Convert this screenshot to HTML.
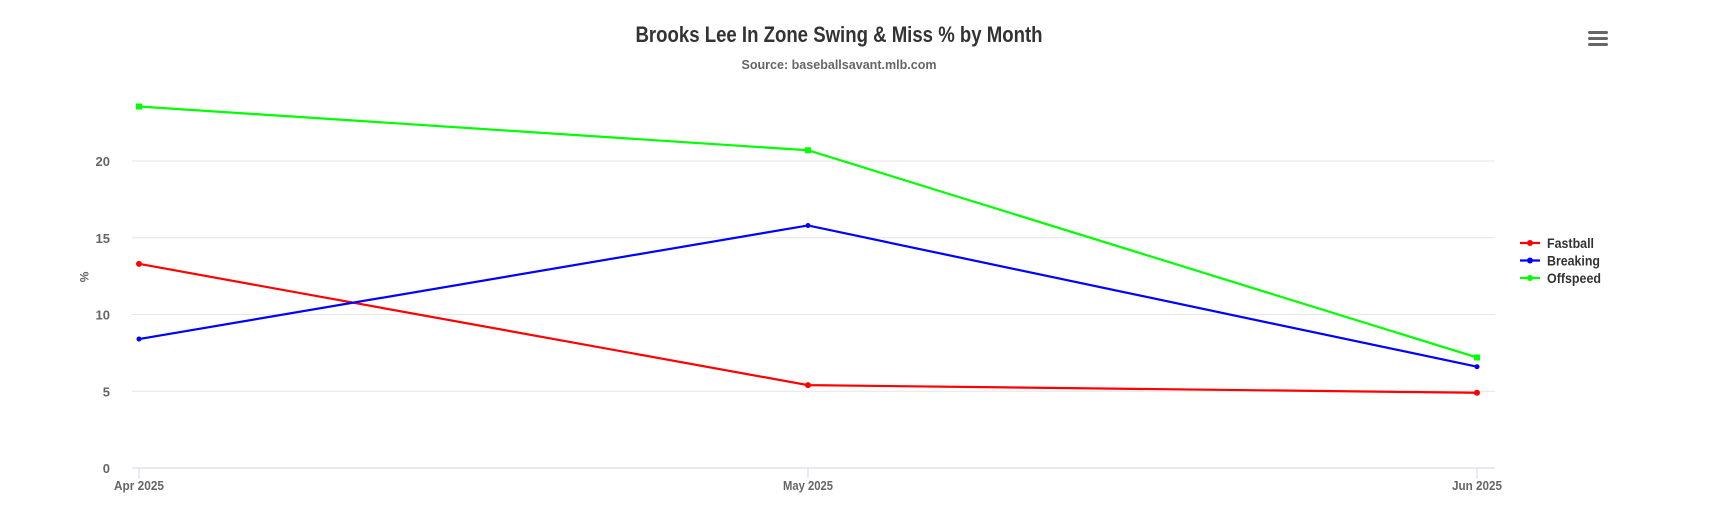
<!DOCTYPE html>
<html><head><meta charset="utf-8"><style>
body{margin:0;background:#fff;width:1721px;height:518px;overflow:hidden;font-family:"Liberation Sans Narrow","Liberation Sans",sans-serif}
svg text{font-family:"Liberation Sans Narrow","Liberation Sans",sans-serif;font-weight:bold}
</style></head><body>
<svg id="c" width="1721" height="518">
<text x="839" y="42" text-anchor="middle" font-size="22" fill="#333" textLength="407" lengthAdjust="spacingAndGlyphs">Brooks Lee In Zone Swing &amp; Miss % by Month</text>
<text x="839" y="69" text-anchor="middle" font-size="13" fill="#666" textLength="195" lengthAdjust="spacingAndGlyphs">Source: baseballsavant.mlb.com</text>
<g>
<rect x="1588" y="31" width="20" height="3" rx="1.5" fill="#666"/><rect x="1588" y="37" width="20" height="3" rx="1.5" fill="#666"/><rect x="1588" y="43" width="20" height="3" rx="1.5" fill="#666"/></g>
<text x="80" y="277" font-size="12" fill="#666" text-anchor="middle" transform="rotate(90 80 277)">%</text>
<g id="grid"></g><g id="series"></g>
<g id="legend"></g>
</svg>
<script>
const categories=["Apr 2025","May 2025","Jun 2025"];
const yTicks=[0,5,10,15,20];
const fastball=[13.3,5.4,4.9];
const breaking=[8.4,15.8,6.6];
const offspeed=[23.55,20.7,7.2];
const seriesNames=["Fastball","Breaking","Offspeed"];
const colors=["#ff0000","#0000ff","#00ff00"];
const NS="http://www.w3.org/2000/svg";
const L=132,R=1495,Y0=468,PY=15.35,X0=139,X1=1477;
const legendW=[47,53,54];
const x=i=>X0+i*(X1-X0)/(categories.length-1);
const y=v=>Y0-v*PY;
function mk(t,a,p){const e=document.createElementNS(NS,t);for(const k in a)e.setAttribute(k,a[k]);p.appendChild(e);return e;}
const g=document.getElementById('grid'),s=document.getElementById('series'),lg=document.getElementById('legend');
yTicks.forEach(v=>{
 const ln=mk('line',{x1:L,x2:R,y1:y(v),y2:y(v),stroke:v==0?'#ccd6eb':'#e6e6e6','stroke-width':1},g);
 
 
 const t=mk('text',{x:110,y:y(v)+5,'text-anchor':'end','font-size':13,fill:'#666'},g);t.textContent=v;
 
 
});
categories.forEach((c,i)=>{
 const tk=mk('line',{x1:x(i),x2:x(i),y1:Y0,y2:Y0+10,stroke:'#ccd6eb'},g);
 
 
 const t=mk('text',{x:x(i),y:Y0+22,'text-anchor':'middle','font-size':13,fill:'#666',textLength:50,lengthAdjust:'spacingAndGlyphs'},g);t.textContent=c;
 
 
});
[fastball,breaking,offspeed].forEach((d,si)=>{
 const p=mk('polyline',{points:d.map((v,i)=>x(i)+','+y(v)).join(' '),fill:'none',stroke:colors[si],'stroke-width':2.2},s);
 
 
 d.forEach((v,i)=>{
  const m=si==2?mk('rect',{x:x(i)-3,y:y(v)-3,width:6,height:6,fill:colors[si]},s):mk('circle',{cx:x(i),cy:y(v),r:si==0?3:2.5,fill:colors[si]},s);
  
  
 });
 const ly=243+si*17.5;
 const lgi=mk('g',{},lg);
 
 
 mk('line',{x1:1520,x2:1540,y1:ly,y2:ly,stroke:colors[si],'stroke-width':2.2},lgi);
 mk('circle',{cx:1530,cy:ly,r:3,fill:colors[si]},lgi);
 const t=mk('text',{x:1547,y:ly+5,'font-size':14,fill:'#333',textLength:legendW[si],lengthAdjust:'spacingAndGlyphs'},lgi);t.textContent=seriesNames[si];
});
</script>
</body></html>
